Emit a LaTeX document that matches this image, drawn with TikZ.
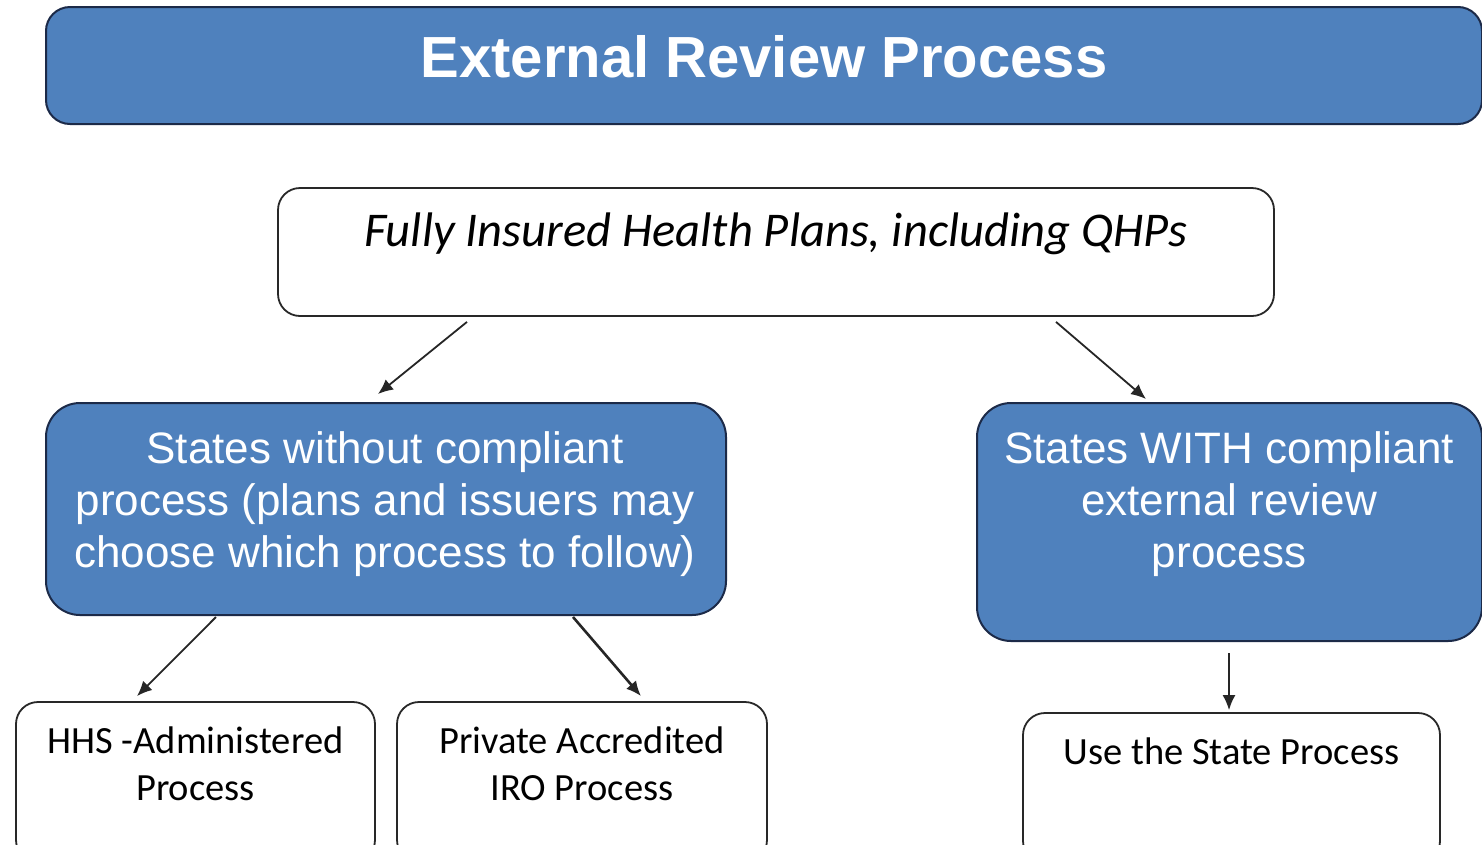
\documentclass[tikz,border=0pt]{standalone}
\usepackage{fontspec}
\setmainfont{Carlito}
\newfontfamily\arialf{Liberation Sans}
\usetikzlibrary{calc,arrows.meta}
\definecolor{boxblue}{RGB}{79,129,189}
\definecolor{boxedge}{RGB}{28,42,72}
\definecolor{greyedge}{RGB}{40,40,40}
\begin{document}
\begin{tikzpicture}[x=1pt,y=-1pt,
  bluebox/.style={draw=boxedge,line width=2pt,fill=boxblue,rounded corners=34pt,inner sep=0pt},
  whitebox/.style={draw=greyedge,line width=1.8pt,fill=white,rounded corners=22pt,inner sep=0pt},
  bluetext/.style={text=white,align=center,font=\arialf\fontsize{44}{52}\selectfont,inner sep=0pt},
  plaintext/.style={text=black,align=center,font=\fontsize{38.5}{47}\selectfont,inner sep=0pt},
  flow/.style={draw=black!85,line width=1.8pt,-{Latex[length=15pt,width=13pt]}}]
\useasboundingbox (0,0) rectangle (1482,844);
\clip (0,0) rectangle (1482,844);

% heading bar
\node[bluebox,rounded corners=24pt,minimum width=1436pt,minimum height=117pt] (title) at (764,65.5) {};
\node[text=white,font=\arialf\bfseries\fontsize{58}{66}\selectfont,inner sep=0pt] (titletext) at (764,57) {External Review Process};

% top-level plan box
\node[whitebox,minimum width=996pt,minimum height=128pt] (fully) at (776,252) {};
\node[plaintext,font=\itshape\fontsize{48.5}{56}\selectfont] (fullytext) at (776,234) {Fully Insured Health Plans, including QHPs};

% the two state branches
\node[bluebox,minimum width=680pt,minimum height=212pt] (without) at (386,509) {};
\node[bluetext] (withouttext) at (385,504) {States without compliant\\process (plans and issuers may\\choose which process to follow)};

\node[bluebox,minimum width=505pt,minimum height=238pt] (with) at (1229.5,522) {};
\node[bluetext] (withtext) at (1229,504) {States WITH compliant\\external review\\process};

% outcome boxes
\node[whitebox,minimum width=359pt,minimum height=160pt] (hhs) at (195.5,782) {};
\node[plaintext] (hhstext) at (195.5,764) {HHS -Administered\\Process};

\node[whitebox,minimum width=370pt,minimum height=160pt] (iro) at (582,782) {};
\node[plaintext] (irotext) at (582,764) {Private Accredited\\IRO Process};

\node[whitebox,minimum width=417pt,minimum height=150pt] (state) at (1231.5,788) {};
\node[plaintext] (statetext) at (1231.5,751) {Use the State Process};

% connectors
\draw[flow] ($(fully.south)+(-309,5)$) -- ($(without.north)+(-8,-8)$);
\draw[flow] ($(fully.south)+(280,5)$) -- ($(with.north)+(-83.5,-3)$);
\draw[flow] ($(without.south)+(-170,1)$) -- ($(hhs.north)+(-58.5,-5)$);
\draw[flow,line width=2.6pt] ($(without.south)+(187,1)$) -- ($(iro.north)+(59,-5)$);
\draw[flow] ($(with.south)+(-0.5,11)$) -- ($(state.north)+(-2.5,-2)$);
\end{tikzpicture}
\end{document}
